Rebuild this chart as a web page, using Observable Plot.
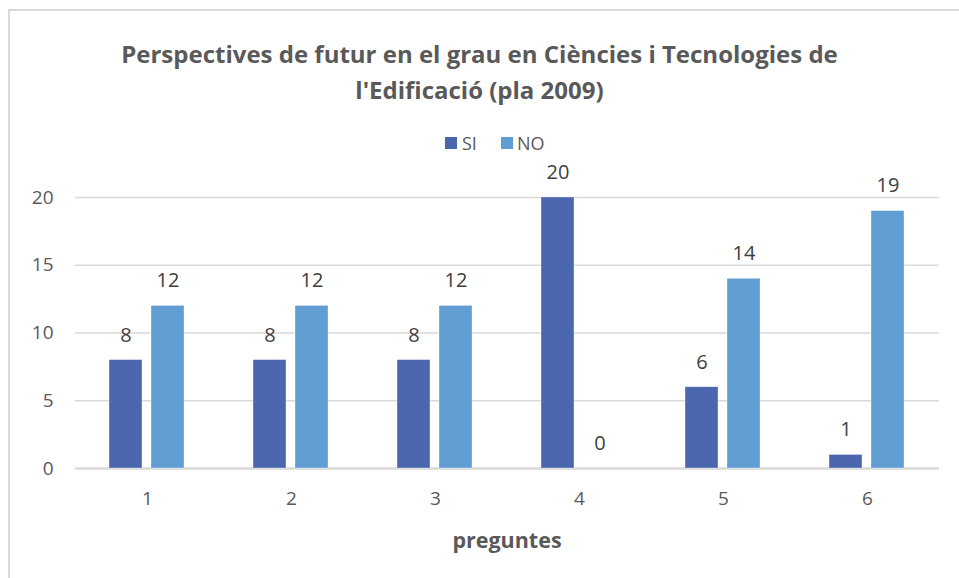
<!DOCTYPE html>
<html>
<head>
<meta charset="utf-8">
<script src="https://cdn.jsdelivr.net/npm/d3@7"></script>
<script src="https://cdn.jsdelivr.net/npm/@observablehq/plot@0.6"></script>
<style>
  body { margin: 0; background: #fff; font-family: "Open Sans", sans-serif; }
  #wrap { position: relative; width: 959px; height: 578px; overflow: hidden; background: #fff; }
  #frame { position: absolute; left: 8px; top: 9px; width: 980px; height: 620px;
           border-left: 2px solid #d9d9d9; border-top: 2px solid #d9d9d9; }
  #chart { position: absolute; left: 0; top: 0; }
  #title { position: absolute; left: 0; top: 36px; width: 959px; text-align: center;
           font-weight: 700; font-size: 24px; line-height: 36px; color: #595959; }
  .sw { position: absolute; width: 12px; height: 12px; }
  .lt { position: absolute; font-size: 18px; color: #595959; line-height: 20px; }
  #xlabel { position: absolute; left: 407px; width: 200px; top: 527px; text-align: center;
            font-weight: 700; font-size: 21.5px; color: #595959; line-height: 26px; }
</style>
</head>
<body>
<div id="wrap">
  <div id="frame"></div>
  <div id="chart"></div>
  <div id="title"></div>
  <div id="legend"></div>
  <div id="xlabel"></div>
</div>
<script>
const titleLines = ["Perspectives de futur en el grau en Ciències i Tecnologies de", "l'Edificació (pla 2009)"];
const xTitle = "preguntes";
const preguntes = ["1", "2", "3", "4", "5", "6"];
const series = ["SI", "NO"];
const siValues = [8, 8, 8, 20, 6, 1];
const noValues = [12, 12, 12, 0, 14, 19];
const yTicks = [0, 5, 10, 15, 20];
const colors = ["#4a66ae", "#5f9dd3"];

const data = [];
preguntes.forEach((p, i) => {
  data.push({q: p, s: "SI", v: siValues[i]});
  data.push({q: p, s: "NO", v: noValues[i]});
});

document.getElementById("title").innerHTML = titleLines.join("<br>");
document.getElementById("xlabel").textContent = xTitle;

// legend
const legend = document.getElementById("legend");
const legendPos = [{sq: 445, tx: 462}, {sq: 501, tx: 517}];
series.forEach((s, i) => {
  const sq = document.createElement("div");
  sq.className = "sw";
  sq.style.left = legendPos[i].sq + "px";
  sq.style.top = "137px";
  sq.style.background = colors[i];
  legend.appendChild(sq);
  const t = document.createElement("div");
  t.className = "lt";
  t.style.left = legendPos[i].tx + "px";
  t.style.top = "133px";
  t.textContent = s;
  legend.appendChild(t);
});

const chart = Plot.plot({
  width: 959,
  height: 578,
  marginTop: 197,
  marginBottom: 110,
  marginLeft: 72,
  marginRight: 18,
  style: { fontFamily: "Open Sans, sans-serif", fontSize: "19px", color: "#595959", background: "transparent", overflow: "visible" },
  fx: { domain: preguntes, padding: 0, label: null, axis: "bottom", tickSize: 0, tickPadding: 23 },
  x: { domain: series, paddingInner: 0.214, paddingOuter: 0.8, axis: null },
  y: { domain: [0, 20], ticks: yTicks, tickSize: 0, tickPadding: 22, label: null, grid: false },
  color: { domain: series, range: colors },
  marks: [
    Plot.ruleY(yTicks.filter(d => d > 0), { stroke: "#d9d9d9", strokeWidth: 1.5, strokeOpacity: 1 }),
    Plot.ruleY([0], { stroke: "#d9d9d9", strokeWidth: 2.5, strokeOpacity: 1 }),
    Plot.barY(data, { fx: "q", x: "s", y: "v", fill: "s", stroke: "#ffffff", strokeOpacity: 0.45, strokeWidth: 0.8 }),
    Plot.text(data, { fx: "q", x: "s", y: "v", text: d => String(d.v), dy: -25, lineAnchor: "middle", fill: "#404040", fontSize: 20 })
  ]
});
document.getElementById("chart").appendChild(chart);
</script>
</body>
</html>
